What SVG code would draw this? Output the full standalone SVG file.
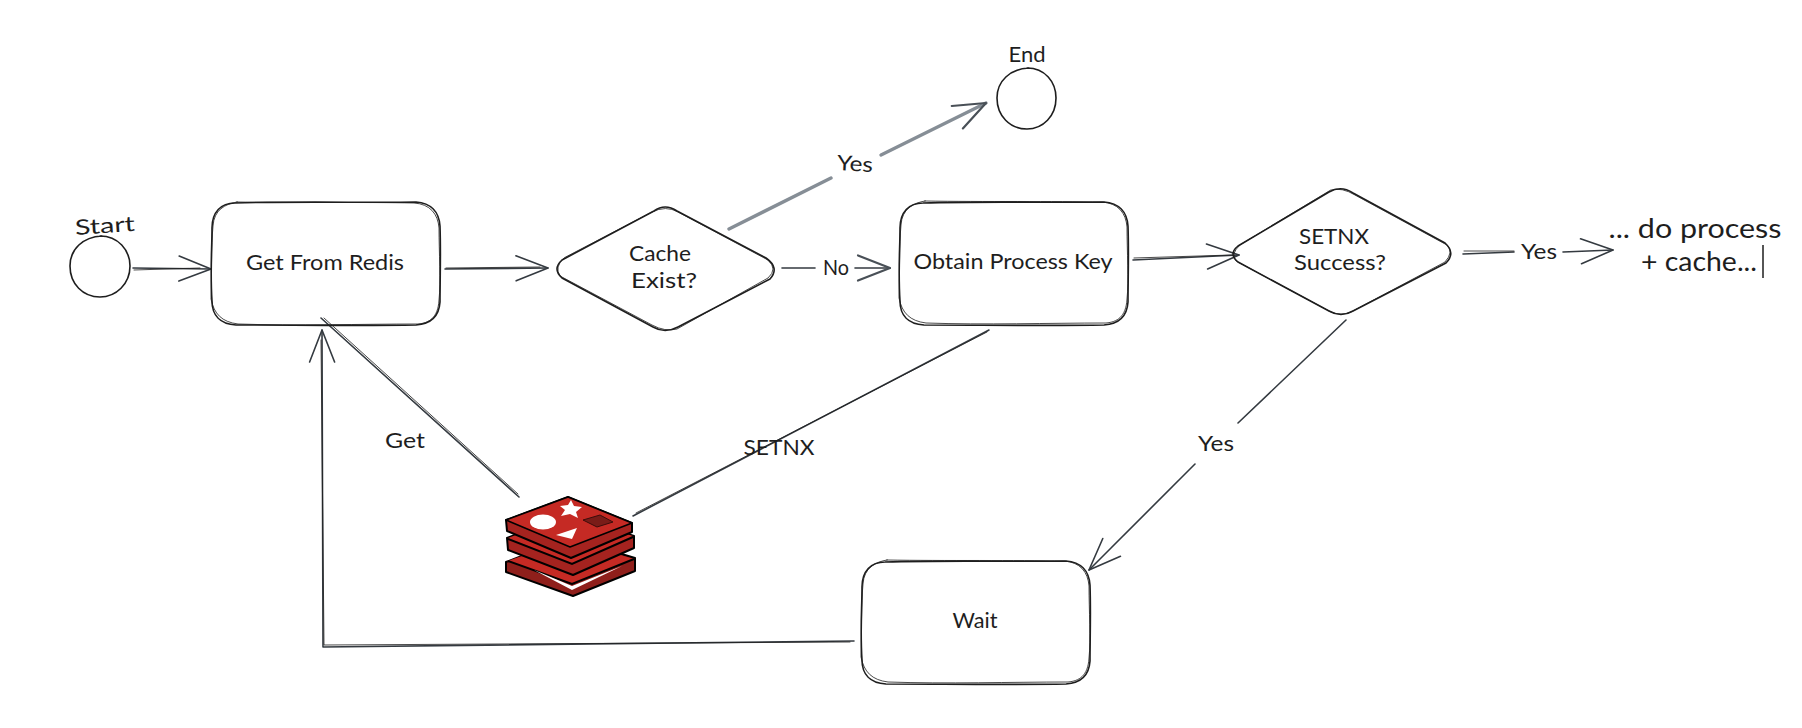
<svg xmlns="http://www.w3.org/2000/svg" width="1802" height="728" viewBox="0 0 1802 728">
<style>
.s{fill:none;stroke:#1e1e1e;stroke-width:1.6;stroke-linecap:round;stroke-linejoin:round}
.t{fill:none;stroke:#1e1e1e;stroke-width:1;stroke-linecap:round;opacity:.8}
.c{fill:none;stroke:#343a40;stroke-width:1.6;stroke-linecap:round;stroke-linejoin:round}
.y{fill:none;stroke:#868e96;stroke-width:3.4;stroke-linecap:round}
text{font-family:"Lato","Noto Sans",sans-serif;font-size:21px;fill:#1e1e1e;text-anchor:middle;letter-spacing:0}
.big{font-size:27px}
</style>
<defs>
<marker id="open" markerUnits="userSpaceOnUse" markerWidth="40" markerHeight="32" refX="36" refY="16" orient="auto" overflow="visible">
<path d="M4,3.5 L36,16 L4,28.5" fill="none" stroke="#343a40" stroke-width="1.6" stroke-linecap="round" stroke-linejoin="round"/>
</marker>
<marker id="openY" markerUnits="userSpaceOnUse" markerWidth="40" markerHeight="32" refX="36" refY="16" orient="auto" overflow="visible">
<path d="M4,3.5 L36,16 L4,28.5" fill="none" stroke="#495057" stroke-width="2.2" stroke-linecap="round" stroke-linejoin="round"/>
</marker>
<path id="box" d="M24,1 C90,-1 160,1 205,0 C220,1 228,10 229,24 C230,52 229,78 229,100 C228,115 220,122 205,123 C150,124 80,123 25,123 C9,122 1,113 1,99 C-1,68 1,48 1,26 C1,10 10,1 24,1 Z"/>
<path id="box2" d="M26,0 C85,1 155,0 203,1 C219,2 227,12 228,26 C228,50 230,80 228,98 C227,116 218,121 207,122 C150,122 85,124 27,122 C11,120 3,112 0,97 C1,70 0,45 2,24 C3,8 14,2 26,0 Z"/>
</defs>

<g id="connectors">
<path class="c" d="M133,268 L211,269" marker-end="url(#open)"/>
<path class="t" d="M134,270 L200,268"/>
<path class="c" d="M445,269 L548,268" marker-end="url(#open)"/>
<path class="t" d="M446,268 L540,267"/>
<path class="y" d="M729,229 L831,178"/>
<path class="y" d="M881,155 L986,103" marker-end="url(#openY)"/>
<path class="c" d="M782,268 L815,268"/>
<path class="c" d="M855,268 L890,268" marker-end="url(#openY)"/>
<path class="c" d="M1133,260 L1239,255" marker-end="url(#open)"/>
<path class="t" d="M1134,258 L1232,255"/>
<path class="c" d="M1463,254 L1514,252"/>
<path class="t" d="M1464,251 L1514,251"/>
<path class="c" d="M1563,252 L1613,250" marker-end="url(#open)"/>
<path class="c" d="M321,318 L519,497"/>
<path class="t" d="M324,318 L518,494"/>
<path class="c" d="M989,330 L633,516"/>
<path class="t" d="M987,332 L636,513"/>
<path class="c" d="M1346,320 L1238,423"/>
<path class="c" d="M1195,464 L1089,570" marker-end="url(#open)"/>
<path class="c" d="M854,641 L323,647 L322,330" marker-end="url(#open)"/>
<path class="t" d="M850,642 L324,645 L321,340"/>
<text x="855" y="171" transform="rotate(3 855 164)" textLength="36" lengthAdjust="spacingAndGlyphs">Yes</text>
<text x="836" y="275" textLength="26" lengthAdjust="spacingAndGlyphs">No</text>
<text x="1539" y="259" textLength="36" lengthAdjust="spacingAndGlyphs">Yes</text>
<text x="1216" y="451" textLength="36" lengthAdjust="spacingAndGlyphs">Yes</text>
<text x="405" y="448" textLength="40" lengthAdjust="spacingAndGlyphs">Get</text>
<text x="779" y="455" textLength="71" lengthAdjust="spacingAndGlyphs">SETNX</text>
</g>

<g id="start">
<path class="s" d="M100,236 C118,236 130,250 130,266 C130,284 116,297 100,297 C83,297 70,284 70,266 C70,249 83,237 102,236"/>
<text x="105" y="233" transform="rotate(-4 105 227)" textLength="60" lengthAdjust="spacingAndGlyphs">Start</text>
</g>

<g id="get-from-redis">
<use href="#box" class="s" x="211" y="202"/>
<use href="#box2" class="t" x="211" y="202"/>
<text x="325" y="270" textLength="158" lengthAdjust="spacingAndGlyphs">Get From Redis</text>
</g>

<g id="cache-exist">
<path class="s" d="M654,211 Q665,203 677,211 L766,258 Q780,268 770,279 L678,327 Q665,334 653,327 L562,278 Q552,269 562,260 Z"/>
<path class="t" d="M652,212 Q666,205 678,212 L768,260 Q778,269 768,278 L677,329 Q665,332 652,325 L560,276 Q554,267 564,258 Z"/>
<text x="660" y="261" textLength="62" lengthAdjust="spacingAndGlyphs">Cache</text>
<text x="664" y="288" textLength="66" lengthAdjust="spacingAndGlyphs">Exist?</text>
</g>

<g id="obtain-process-key">
<use href="#box" class="s" x="899" y="202"/>
<use href="#box2" class="t" x="899" y="201"/>
<text x="1013" y="269" textLength="199" lengthAdjust="spacingAndGlyphs">Obtain Process Key</text>
</g>

<g id="setnx-success">
<path class="s" d="M1329,192 Q1341,185 1353,193 L1445,243 Q1456,253 1446,263 L1353,311 Q1341,318 1329,311 L1238,262 Q1228,254 1238,246 Z"/>
<path class="t" d="M1331,190 Q1342,187 1355,195 L1447,245 Q1454,252 1445,262 L1351,312 Q1341,316 1331,312 L1236,261 Q1230,254 1240,245 Z"/>
<text x="1334" y="244" textLength="70" lengthAdjust="spacingAndGlyphs">SETNX</text>
<text x="1340" y="270" textLength="92" lengthAdjust="spacingAndGlyphs">Success?</text>
</g>

<g id="end">
<path class="s" d="M1027,68 C1045,68 1056,82 1056,98 C1056,116 1043,129 1027,129 C1010,129 997,116 997,98 C997,81 1010,69 1029,68"/>
<text x="1027" y="62" textLength="37" lengthAdjust="spacingAndGlyphs">End</text>
</g>

<g id="process-note">
<text class="big" x="1695" y="238" textLength="173" lengthAdjust="spacingAndGlyphs">... do process</text>
<text class="big" x="1699" y="271" textLength="116" lengthAdjust="spacingAndGlyphs">+ cache...</text>
<path d="M1763,245 L1763,278" stroke="#1e1e1e" stroke-width="1.5" fill="none"/>
</g>

<g id="wait">
<use href="#box" class="s" x="861" y="561"/>
<use href="#box2" class="t" x="861" y="560"/>
<text x="975" y="628" textLength="45" lengthAdjust="spacingAndGlyphs">Wait</text>
</g>

<g id="redis">
<path d="M506,562 L568,538 L635,558 L635,571 L573,596 L506,572 Z" fill="#8f1f1b" stroke="#000" stroke-width="2" stroke-linejoin="round"/>
<path d="M507,561 L568,540 L634,559 L572,584 Z" fill="#c52a24"/>
<path d="M508,561 L572,584 L634,559" fill="none" stroke="#000" stroke-width="2"/>
<path d="M534,570 L572,586 L622,566 L572,590 Z" fill="#fff"/>
<path d="M507,538 L568,515 L634,536 L634,548 L573,575 L508,550 Z" fill="#a5231f" stroke="#000" stroke-width="2" stroke-linejoin="round"/>
<path d="M508,538 L568,515 L633,536 L572,563 Z" fill="#c52a24"/>
<path d="M508,539 L572,564 L633,537" fill="none" stroke="#000" stroke-width="2"/>
<path d="M506,520 L568,497 L632,523 L632,532 L571,558 L507,531 Z" fill="#a5231f" stroke="#000" stroke-width="2" stroke-linejoin="round"/>
<path d="M506,520 L568,497 L632,523 L570,547 Z" fill="#c52a24" stroke="#000" stroke-width="1.6" stroke-linejoin="round"/>
<ellipse cx="543" cy="522" rx="13" ry="7.5" fill="#fff"/>
<path d="M571,500 L574,506 L582,507 L576,512 L578,518 L570,514 L561,516 L565,510 L560,506 L568,505 Z" fill="#fff"/>
<path d="M556,535 L577,528 L572,539 Z" fill="#fff"/>
<path d="M583,520 L600,515 L613,522 L597,527 Z" fill="#7a1c18" stroke="#3b0d0b" stroke-width="1"/>
</g>
</svg>
